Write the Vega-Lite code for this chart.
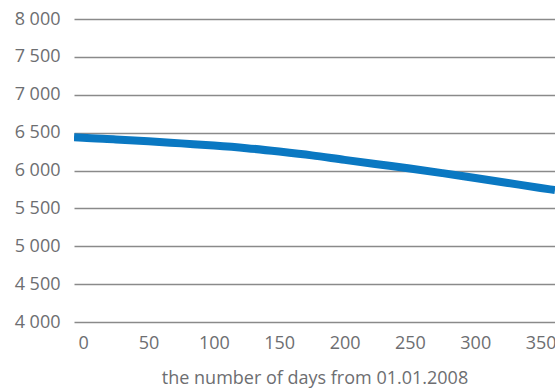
{
  "$schema": "https://vega.github.io/schema/vega-lite/v6.json",
  "autosize": {"type": "none"},
  "padding": {"left": 74, "top": 19, "right": 0, "bottom": 66},
  "width": 481,
  "height": 303,
  "background": "white",
  "config": {
    "view": {"stroke": null},
    "font": "Open Sans",
    "axis": {
      "labelFont": "Open Sans",
      "titleFont": "Open Sans",
      "labelColor": "#6d6e71",
      "titleColor": "#6d6e71",
      "labelFontSize": 18,
      "titleFontSize": 18,
      "titleFontWeight": "normal"
    }
  },
  "data": {
    "values": [
      {"day": -7, "value": 6440},
      {"day": 0, "value": 6432},
      {"day": 25, "value": 6410},
      {"day": 50, "value": 6386},
      {"day": 75, "value": 6358},
      {"day": 100, "value": 6330},
      {"day": 125, "value": 6295},
      {"day": 150, "value": 6250},
      {"day": 175, "value": 6200},
      {"day": 200, "value": 6140},
      {"day": 225, "value": 6083},
      {"day": 250, "value": 6027},
      {"day": 275, "value": 5965},
      {"day": 300, "value": 5900},
      {"day": 325, "value": 5835},
      {"day": 350, "value": 5770},
      {"day": 361, "value": 5742}
    ]
  },
  "mark": {"type": "line", "color": "#0a78c2", "strokeWidth": 8, "interpolate": "monotone", "clip": true, "strokeCap": "butt"},
  "encoding": {
    "x": {
      "field": "day",
      "type": "quantitative",
      "scale": {"domain": [-7, 361], "nice": false, "zero": false},
      "axis": {
        "values": [0, 50, 100, 150, 200, 250, 300, 350],
        "title": "the number of days from 01.01.2008",
        "grid": false,
        "domain": false,
        "ticks": false,
        "labelPadding": 12,
        "titlePadding": 17,
        "labelFlush": false
      }
    },
    "y": {
      "field": "value",
      "type": "quantitative",
      "scale": {"domain": [4000, 8000], "nice": false, "zero": false},
      "axis": {
        "values": [4000, 4500, 5000, 5500, 6000, 6500, 7000, 7500, 8000],
        "title": null,
        "grid": true,
        "gridColor": "#8a8a8a",
        "gridWidth": 1.3,
        "gridOpacity": 1,
        "domain": false,
        "ticks": false,
        "labelPadding": 14,
        "labelExpr": "replace(format(datum.value, ','), ',', ' ')"
      }
    }
  }
}
